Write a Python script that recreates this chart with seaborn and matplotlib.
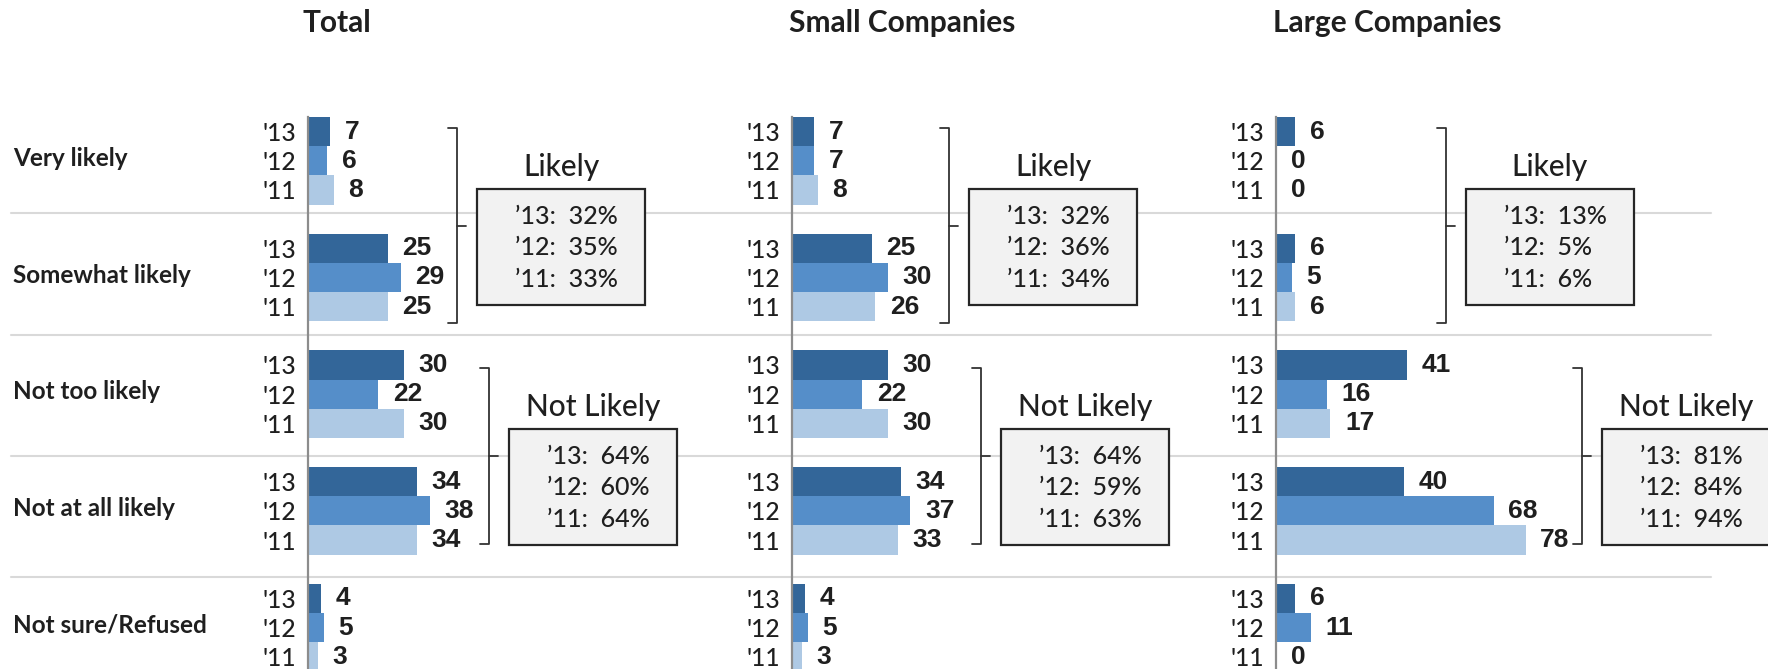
import numpy as np
import pandas as pd
import matplotlib
matplotlib.use("Agg")
import matplotlib.pyplot as plt
from matplotlib.lines import Line2D
from matplotlib.patches import Rectangle
from matplotlib.transforms import blended_transform_factory
import seaborn as sns

# ---- data -------------------------------------------------------------
CATEGORIES = ["Very likely", "Somewhat likely", "Not too likely",
              "Not at all likely", "Not sure/Refused"]
YEARS = ["'13", "'12", "'11"]
PANELS = ["Total", "Small Companies", "Large Companies"]

TOTAL_13 = [7, 25, 30, 34, 4]
TOTAL_12 = [6, 29, 22, 38, 5]
TOTAL_11 = [8, 25, 30, 34, 3]
SMALL_13 = [7, 25, 30, 34, 4]
SMALL_12 = [7, 30, 22, 37, 5]
SMALL_11 = [8, 26, 30, 33, 3]
LARGE_13 = [6, 6, 41, 40, 6]
LARGE_12 = [0, 5, 16, 68, 11]
LARGE_11 = [0, 6, 17, 78, 0]

# summary boxes ('13, '12, '11)
TOTAL_LIKELY = [32, 35, 33]
TOTAL_NOT_LIKELY = [64, 60, 64]
SMALL_LIKELY = [32, 36, 34]
SMALL_NOT_LIKELY = [64, 59, 63]
LARGE_LIKELY = [13, 5, 6]
LARGE_NOT_LIKELY = [81, 84, 94]

PANEL_VALUES = [
    (TOTAL_13, TOTAL_12, TOTAL_11),
    (SMALL_13, SMALL_12, SMALL_11),
    (LARGE_13, LARGE_12, LARGE_11),
]
PANEL_SUMMARY = [
    (TOTAL_LIKELY, TOTAL_NOT_LIKELY),
    (SMALL_LIKELY, SMALL_NOT_LIKELY),
    (LARGE_LIKELY, LARGE_NOT_LIKELY),
]
BOX_YEARS = ["\u201913", "\u201912", "\u201911"]

# ---- layout (pixels of the 1768x669 canvas) ----------------------------
W, H = 1768, 669
PX = 3.2          # pixels per percentage point
ROW = 116.7       # pixels per category row
AX_TOP = 117
BASELINE_PX = [308, 792, 1276]
AX_W_PX = [440, 440, 492]
TITLE_X_PX = [337, 902, 1387]
BRACKET_PX = [(149, 181), (157, 189), (170, 306)]
BRACKET_PAD = [(-0.28, 0.39), (-0.22, 0.28)]
SEPARATOR_Y = [0.45, 1.49, 2.53, 3.57]

COLORS = ["#336699", "#558ec9", "#aec9e4"]
TEXT = "#1f1f1f"

sns.set_style("white")
plt.rcParams["font.family"] = ["Lato", "DejaVu Sans"]

fig = plt.figure(figsize=(W / 100, H / 100), dpi=100)

y_top = -0.375
y_bot = y_top + (H - AX_TOP) / ROW

axes = []
for p, (vals, summary) in enumerate(zip(PANEL_VALUES, PANEL_SUMMARY)):
    ax = fig.add_axes([BASELINE_PX[p] / W, 0, AX_W_PX[p] / W, (H - AX_TOP) / H])
    ax.patch.set_visible(False)
    axes.append(ax)

    df = pd.DataFrame({
        "category": CATEGORIES * 3,
        "year": [y for y in YEARS for _ in CATEGORIES],
        "value": vals[0] + vals[1] + vals[2],
    })
    sns.barplot(data=df, x="value", y="category", hue="year",
                order=CATEGORIES, hue_order=YEARS, palette=COLORS,
                width=0.75, saturation=1, errorbar=None, linewidth=0,
                legend=False, ax=ax, zorder=2)

    for cont in ax.containers:
        ax.bar_label(cont, padding=10.5, fontsize=19, fontweight="bold",
                     family="Liberation Sans", color=TEXT)

    ax.set_xlim(0, AX_W_PX[p] / PX)
    ax.set_ylim(y_bot, y_top)
    ax.set_xlabel("")
    ax.set_ylabel("")
    ax.set_xticks([])
    ticks = [i + off for i in range(len(CATEGORIES)) for off in (-0.25, 0, 0.25)]
    ax.set_yticks(ticks)
    ax.set_yticklabels(YEARS * len(CATEGORIES), fontsize=17.7, color=TEXT,
                       fontweight="medium")
    ax.tick_params(axis="y", length=0, pad=8.5)
    for side in ["top", "right", "bottom"]:
        ax.spines[side].set_visible(False)
    ax.spines["left"].set_color("#8c8c8c")
    ax.spines["left"].set_linewidth(1.6)

    # brackets + summary boxes
    groups = [(0, 1), (2, 3)]
    names = ["Likely", "Not Likely"]
    tick = 9 / PX
    for g, (first, last) in enumerate(groups):
        bx = BRACKET_PX[p][g] / PX
        y0 = first + BRACKET_PAD[g][0]
        y1 = last + BRACKET_PAD[g][1]
        ym = (y0 + y1) / 2
        ax.plot([bx - tick, bx, bx, bx - tick], [y0, y0, y1, y1],
                color="#333333", lw=1.3, clip_on=False, zorder=3)
        ax.plot([bx, bx + tick], [ym, ym], color="#333333", lw=1.3,
                clip_on=False, zorder=3)

        box_l = bx + 20 / PX
        box_w = 168 / PX
        box_t = y0 + 61 / ROW
        box_h = 116 / ROW
        ax.add_patch(Rectangle((box_l, box_t), box_w, box_h, facecolor="#f2f2f2",
                               edgecolor="#262626", lw=1.6, clip_on=False, zorder=3))
        ax.text(box_l + box_w / 2, box_t - 22 / ROW, names[g], ha="center",
                va="center", fontsize=21.5, color=TEXT, fontweight="medium",
                zorder=4)
        for k, (yr, v) in enumerate(zip(BOX_YEARS, summary[g])):
            ax.text(box_l + 38 / PX, box_t + (27 + 31.5 * k) / ROW,
                    f"{yr}:  {v}%", ha="left", va="center", fontsize=18,
                    color=TEXT, fontweight="medium", zorder=4)

    fig.text(TITLE_X_PX[p] / W, 1 - 23 / H, PANELS[p], ha="center", va="center",
             fontsize=21.5, fontweight="bold", color=TEXT)

# category labels and separators, tied to the first panel's rows
trans = blended_transform_factory(fig.transFigure, axes[0].transData)
for i, cat in enumerate(CATEGORIES):
    fig.text(13 / W, i - 0.02, cat, transform=trans, ha="left", va="center",
             fontsize=17.5, fontweight="bold", color=TEXT)
for ys in SEPARATOR_Y:
    fig.add_artist(Line2D([11 / W, 1711 / W], [ys, ys], transform=trans,
                          color="#d9d9d9", lw=1.5, zorder=-1))

fig.savefig("out.png", dpi=100)
